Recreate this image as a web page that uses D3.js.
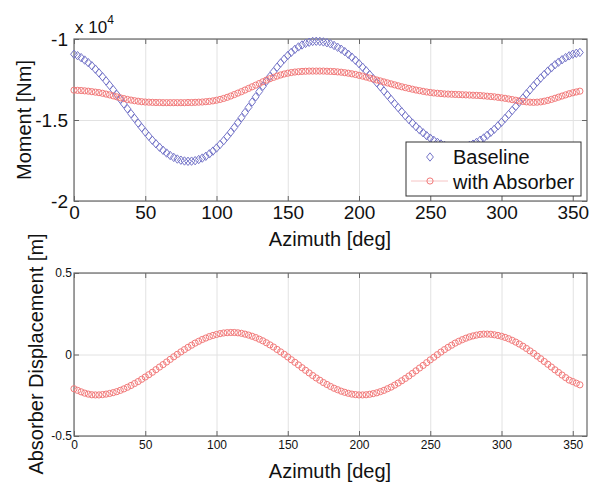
<!DOCTYPE html>
<html><head><meta charset="utf-8">
<script src="https://cdn.jsdelivr.net/npm/d3@7"></script>
<style>
html,body{margin:0;padding:0;background:#fff;}
svg{display:block;font-family:"Liberation Sans",Arial,Helvetica,sans-serif;}
</style></head>
<body>
<svg id="chart" width="591" height="482"></svg>
<script>
// Azimuth samples [deg]
const azimuth = [0,2.5,5,7.5,10,12.5,15,17.5,20,22.5,25,27.5,30,32.5,35,37.5,40,42.5,45,47.5,50,52.5,55,57.5,60,62.5,65,67.5,70,72.5,75,77.5,80,82.5,85,87.5,90,92.5,95,97.5,100,102.5,105,107.5,110,112.5,115,117.5,120,122.5,125,127.5,130,132.5,135,137.5,140,142.5,145,147.5,150,152.5,155,157.5,160,162.5,165,167.5,170,172.5,175,177.5,180,182.5,185,187.5,190,192.5,195,197.5,200,202.5,205,207.5,210,212.5,215,217.5,220,222.5,225,227.5,230,232.5,235,237.5,240,242.5,245,247.5,250,252.5,255,257.5,260,262.5,265,267.5,270,272.5,275,277.5,280,282.5,285,287.5,290,292.5,295,297.5,300,302.5,305,307.5,310,312.5,315,317.5,320,322.5,325,327.5,330,332.5,335,337.5,340,342.5,345,347.5,350,352.5,355];

// Moment, Baseline [x 10^4 Nm]
const momentBaseline = [-1.094,-1.103,-1.115,-1.130,-1.146,-1.165,-1.186,-1.209,-1.233,-1.259,-1.286,-1.313,-1.342,-1.372,-1.401,-1.431,-1.461,-1.490,-1.519,-1.547,-1.574,-1.600,-1.625,-1.647,-1.668,-1.687,-1.704,-1.719,-1.731,-1.741,-1.748,-1.753,-1.755,-1.754,-1.751,-1.744,-1.735,-1.724,-1.709,-1.692,-1.673,-1.651,-1.628,-1.602,-1.575,-1.546,-1.516,-1.486,-1.454,-1.422,-1.389,-1.357,-1.324,-1.292,-1.261,-1.231,-1.202,-1.174,-1.148,-1.124,-1.102,-1.082,-1.064,-1.049,-1.037,-1.027,-1.020,-1.015,-1.014,-1.015,-1.018,-1.023,-1.030,-1.040,-1.051,-1.063,-1.078,-1.094,-1.112,-1.131,-1.152,-1.174,-1.196,-1.220,-1.245,-1.270,-1.295,-1.321,-1.347,-1.373,-1.399,-1.424,-1.449,-1.474,-1.497,-1.519,-1.541,-1.561,-1.579,-1.597,-1.612,-1.626,-1.638,-1.648,-1.657,-1.663,-1.667,-1.670,-1.670,-1.668,-1.664,-1.657,-1.649,-1.638,-1.625,-1.611,-1.594,-1.576,-1.557,-1.536,-1.514,-1.490,-1.466,-1.441,-1.416,-1.390,-1.365,-1.339,-1.314,-1.289,-1.265,-1.241,-1.219,-1.198,-1.178,-1.159,-1.143,-1.128,-1.115,-1.104,-1.094,-1.088,-1.083];

// Moment, with Absorber [x 10^4 Nm]
const momentAbsorber = [-1.316,-1.317,-1.318,-1.320,-1.322,-1.325,-1.328,-1.331,-1.335,-1.340,-1.345,-1.351,-1.357,-1.363,-1.368,-1.373,-1.377,-1.381,-1.384,-1.387,-1.389,-1.390,-1.391,-1.392,-1.392,-1.393,-1.393,-1.393,-1.393,-1.393,-1.393,-1.393,-1.392,-1.392,-1.391,-1.390,-1.389,-1.387,-1.385,-1.382,-1.378,-1.373,-1.367,-1.360,-1.352,-1.343,-1.334,-1.325,-1.315,-1.305,-1.295,-1.285,-1.275,-1.264,-1.254,-1.245,-1.237,-1.229,-1.222,-1.216,-1.211,-1.207,-1.204,-1.202,-1.200,-1.199,-1.198,-1.198,-1.198,-1.198,-1.198,-1.199,-1.200,-1.201,-1.203,-1.205,-1.208,-1.211,-1.215,-1.219,-1.224,-1.229,-1.235,-1.241,-1.247,-1.253,-1.259,-1.265,-1.271,-1.277,-1.283,-1.289,-1.295,-1.300,-1.305,-1.310,-1.315,-1.319,-1.323,-1.327,-1.330,-1.333,-1.335,-1.337,-1.339,-1.340,-1.341,-1.342,-1.343,-1.344,-1.345,-1.346,-1.347,-1.348,-1.349,-1.351,-1.353,-1.355,-1.357,-1.360,-1.363,-1.366,-1.370,-1.374,-1.378,-1.382,-1.385,-1.388,-1.390,-1.391,-1.390,-1.388,-1.384,-1.379,-1.373,-1.366,-1.359,-1.352,-1.345,-1.338,-1.332,-1.327,-1.322];

// Absorber displacement [m]
const displacement = [-0.210,-0.220,-0.229,-0.237,-0.243,-0.247,-0.248,-0.248,-0.246,-0.243,-0.239,-0.234,-0.228,-0.220,-0.211,-0.201,-0.190,-0.178,-0.166,-0.152,-0.138,-0.124,-0.109,-0.093,-0.077,-0.062,-0.046,-0.030,-0.014,0.001,0.016,0.030,0.044,0.057,0.070,0.081,0.092,0.101,0.110,0.117,0.123,0.128,0.132,0.134,0.135,0.135,0.133,0.130,0.125,0.119,0.112,0.104,0.094,0.084,0.072,0.059,0.046,0.031,0.016,0.001,-0.015,-0.032,-0.048,-0.064,-0.081,-0.097,-0.113,-0.129,-0.144,-0.158,-0.172,-0.184,-0.196,-0.207,-0.216,-0.225,-0.232,-0.238,-0.243,-0.246,-0.248,-0.248,-0.247,-0.244,-0.240,-0.235,-0.228,-0.220,-0.210,-0.200,-0.188,-0.175,-0.161,-0.147,-0.132,-0.116,-0.100,-0.083,-0.067,-0.050,-0.033,-0.017,-0.001,0.015,0.030,0.044,0.057,0.070,0.081,0.091,0.100,0.108,0.114,0.119,0.123,0.125,0.125,0.124,0.121,0.117,0.112,0.105,0.097,0.087,0.076,0.064,0.051,0.037,0.022,0.007,-0.010,-0.026,-0.043,-0.060,-0.077,-0.094,-0.110,-0.126,-0.142,-0.157,-0.166,-0.176,-0.186];

const xTicks = [0,50,100,150,200,250,300,350];
const yTicksTop = [-2,-1.5,-1];
const yTickLabelsTop = ["-2","-1.5","-1"];
const yTicksBottom = [-0.5,0,0.5];
const yTickLabelsBottom = ["-0.5","0","0.5"];
const seriesNames = ["Baseline","with Absorber"];

const BLUE = "#7474c8", RED = "#f27a7a", FRAME = "#666", GRID = "#e2e2e2";
const svg = d3.select("#chart");

function panel(cfg){
  const g = svg.append("g");
  const x = d3.scaleLinear().domain([0,360]).range([cfg.left, cfg.right]);
  const y = d3.scaleLinear().domain(cfg.ydom).range([cfg.bottom, cfg.top]);
  const H = cfg.bottom - cfg.top, W = cfg.right - cfg.left;
  g.append("g").attr("transform",`translate(0,${cfg.bottom})`)
    .call(d3.axisBottom(x).tickValues(xTicks).tickSize(-H).tickFormat(""))
    .call(a=>{a.select(".domain").remove(); a.selectAll("line").attr("stroke",GRID);});
  g.append("g").attr("transform",`translate(${cfg.left},0)`)
    .call(d3.axisLeft(y).tickValues(cfg.yticks).tickSize(-W).tickFormat(""))
    .call(a=>{a.select(".domain").remove(); a.selectAll("line").attr("stroke",GRID);});
  const styleAx = a=>{a.select(".domain").remove(); a.selectAll("line").attr("stroke",FRAME);
    a.selectAll("text").attr("fill","#111").style("font-size",cfg.fs+"px").style("font-family","'Liberation Sans',Arial,sans-serif");};
  g.append("g").attr("transform",`translate(0,${cfg.bottom})`)
    .call(d3.axisBottom(x).tickValues(xTicks).tickSizeInner(-5).tickSizeOuter(0).tickPadding(cfg.xpad).tickFormat(d3.format("d")))
    .call(styleAx);
  g.append("g").attr("transform",`translate(0,${cfg.top})`)
    .call(d3.axisTop(x).tickValues(xTicks).tickSizeInner(-5).tickSizeOuter(0).tickFormat(""))
    .call(styleAx);
  g.append("g").attr("transform",`translate(${cfg.left},0)`)
    .call(d3.axisLeft(y).tickValues(cfg.yticks).tickSizeInner(-5).tickSizeOuter(0).tickPadding(cfg.ypad).tickFormat((d,i)=>cfg.ylabels[i]))
    .call(styleAx);
  g.append("g").attr("transform",`translate(${cfg.right},0)`)
    .call(d3.axisRight(y).tickValues(cfg.yticks).tickSizeInner(-5).tickSizeOuter(0).tickFormat(""))
    .call(styleAx);
  g.append("rect").attr("x",cfg.left).attr("y",cfg.top).attr("width",W).attr("height",H)
    .attr("fill","none").attr("stroke",FRAME).attr("stroke-width",1.2);
  return {g,x,y};
}

// MATLAB-like diamond marker (slightly taller than wide)
const matlabDiamond = { draw(ctx, size){ const w = 3.4, h = 4.2;
  ctx.moveTo(0,-h); ctx.lineTo(w,0); ctx.lineTo(0,h); ctx.lineTo(-w,0); ctx.closePath(); } };
const diamond = d3.symbol().type(matlabDiamond);

// ---- Top panel ----
const topP = panel({left:74,right:587,top:39,bottom:201,ydom:[-2,-1],yticks:yTicksTop,ylabels:yTickLabelsTop,fs:19,xpad:5,ypad:6});
topP.g.append("g").selectAll("path").data(azimuth).join("path")
  .attr("d",diamond).attr("transform",(d,i)=>`translate(${topP.x(d)},${topP.y(momentBaseline[i])})`)
  .attr("fill","none").attr("stroke",BLUE).attr("stroke-width",1);
topP.g.append("g").selectAll("circle").data(azimuth).join("circle")
  .attr("cx",d=>topP.x(d)).attr("cy",(d,i)=>topP.y(momentAbsorber[i])).attr("r",3.1)
  .attr("fill","none").attr("stroke",RED).attr("stroke-width",1);

const ex = svg.append("text").attr("x",75).attr("y",33).attr("fill","#111").style("font-size","17px");
ex.append("tspan").text("x 10");
ex.append("tspan").attr("dy",-9).style("font-size","12px").text("4");

svg.append("text").attr("x",330).attr("y",246).attr("text-anchor","middle").style("font-size","20px").attr("fill","#111").text("Azimuth [deg]");
svg.append("text").attr("transform","translate(31,120) rotate(-90)").attr("text-anchor","middle").style("font-size","20px").attr("fill","#111").text("Moment [Nm]");

const lg = svg.append("g");
lg.append("rect").attr("x",406).attr("y",142).attr("width",175).attr("height",54).attr("fill","#fff").attr("stroke","#333").attr("stroke-width",1);
lg.append("path").attr("d",diamond).attr("transform","translate(430,157)").attr("fill","none").attr("stroke",BLUE);
lg.append("line").attr("x1",411).attr("x2",448).attr("y1",181).attr("y2",181).attr("stroke","#f6c4c4").attr("stroke-width",1);
lg.append("circle").attr("cx",430).attr("cy",181).attr("r",3.1).attr("fill","none").attr("stroke",RED);
lg.selectAll("text.lt").data(seriesNames).join("text").attr("class","lt")
  .attr("x",453).attr("y",(d,i)=>164+i*25).style("font-size","20px").attr("fill","#111").text(d=>d);

// ---- Bottom panel ----
const botP = panel({left:74,right:587,top:273,bottom:436,ydom:[-0.5,0.5],yticks:yTicksBottom,ylabels:yTickLabelsBottom,fs:12,xpad:4,ypad:2});
botP.g.append("g").selectAll("circle").data(azimuth).join("circle")
  .attr("cx",d=>botP.x(d)).attr("cy",(d,i)=>botP.y(displacement[i])).attr("r",3.1)
  .attr("fill","none").attr("stroke",RED).attr("stroke-width",1);
svg.append("text").attr("x",330).attr("y",478).attr("text-anchor","middle").style("font-size","20px").attr("fill","#111").text("Azimuth [deg]");
svg.append("text").attr("transform","translate(43,354) rotate(-90)").attr("text-anchor","middle").style("font-size","20px").attr("fill","#111").text("Absorber Displacement [m]");
</script>
</body></html>
